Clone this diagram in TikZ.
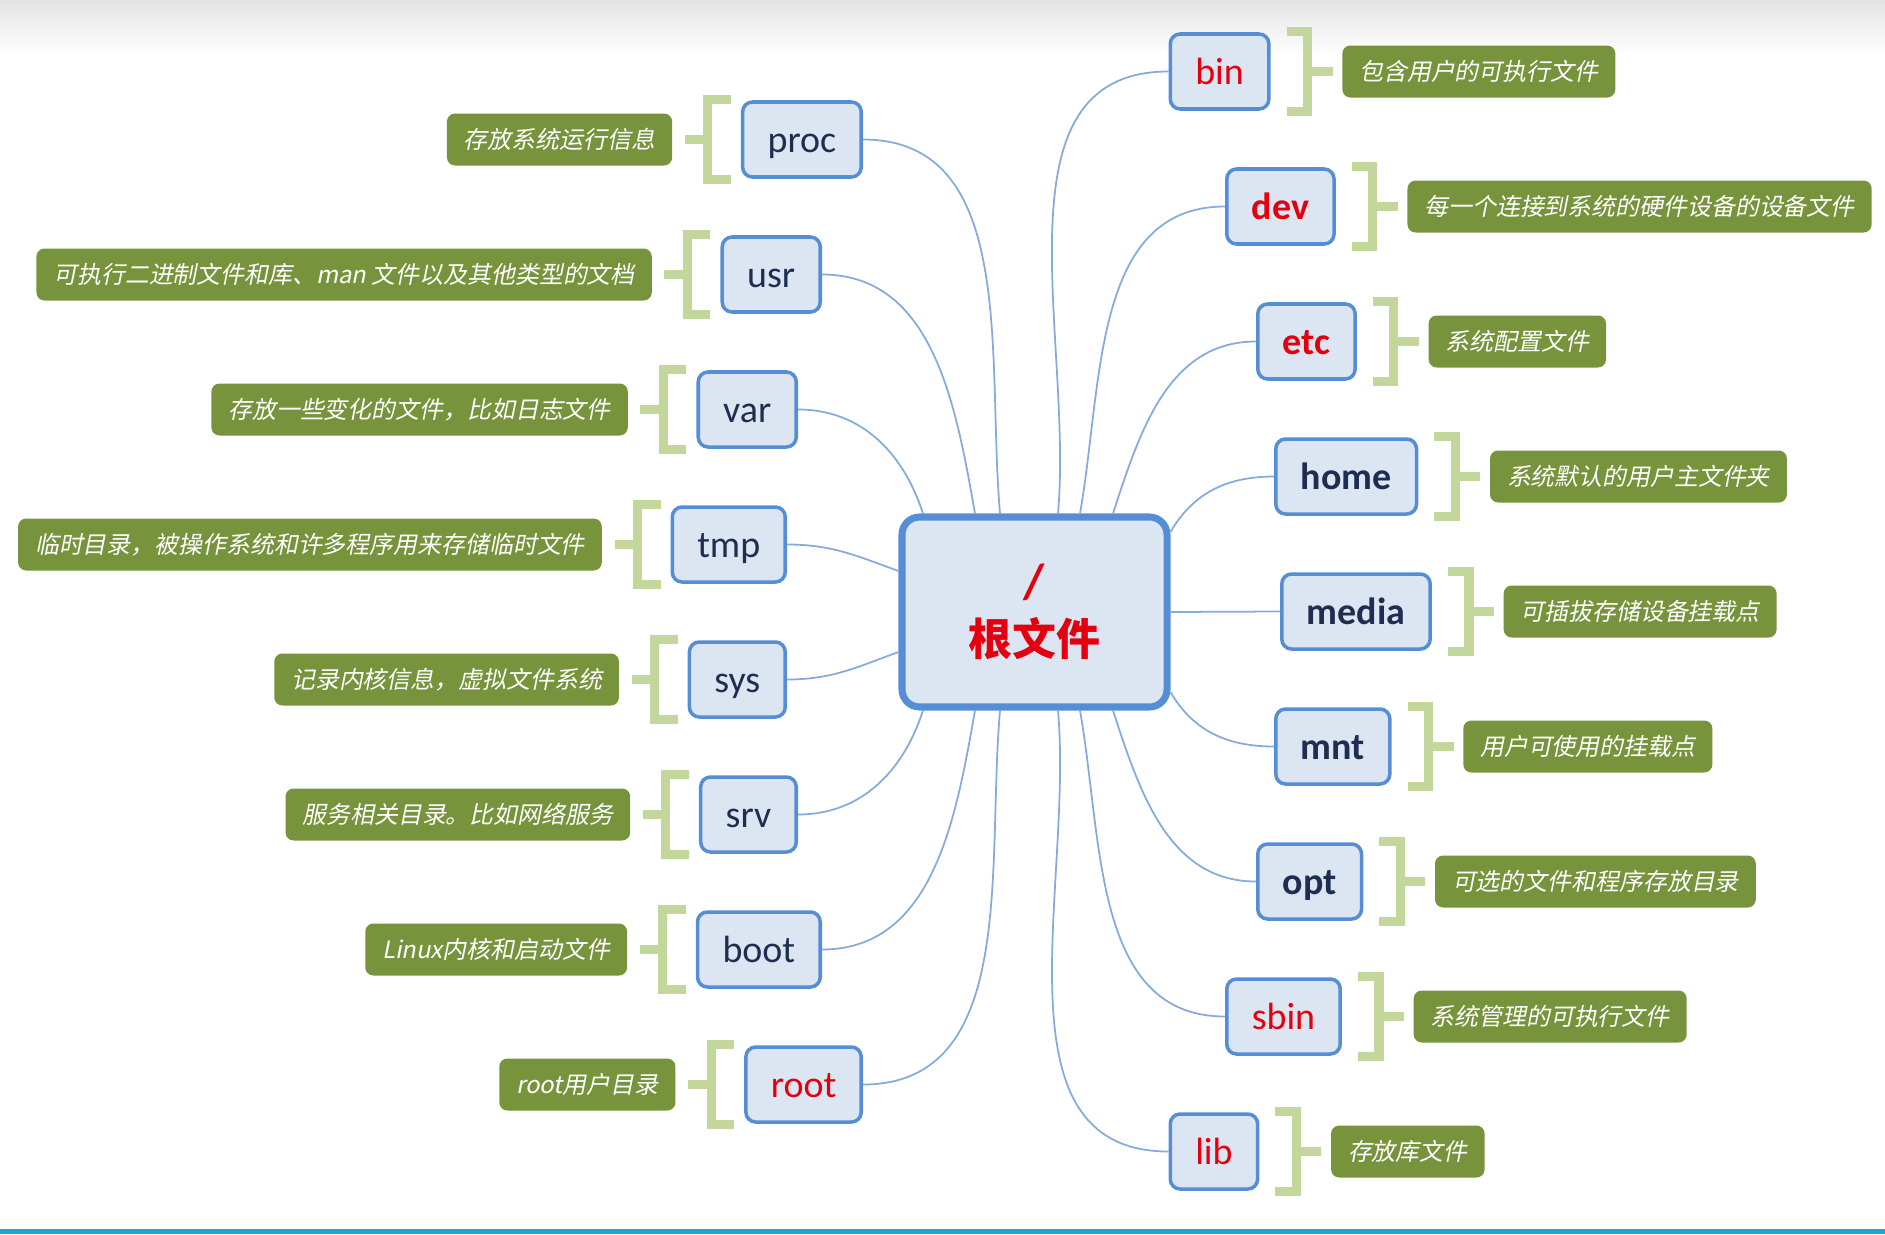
\documentclass[tikz,border=0pt]{standalone}
\usepackage{fontspec}
\setmainfont{Carlito}
\newfontfamily\cjk{Noto Sans CJK SC}
\newfontfamily\cjkit[FakeSlant=0.2]{Noto Sans CJK SC}
\usepackage{tikz}
\usetikzlibrary{calc,positioning}
\definecolor{ccFill}{HTML}{DCE6F2}
\definecolor{ccBlue}{HTML}{558ED5}
\definecolor{ccLink}{HTML}{85AADC}
\definecolor{ccNavy}{HTML}{1F2D50}
\definecolor{ccRed}{HTML}{E3000F}
\definecolor{ccNote}{HTML}{77933C}
\definecolor{ccBrk}{HTML}{C3D69B}
\definecolor{ccShade}{HTML}{E4E4E4}
\definecolor{ccBar}{HTML}{1FA3DA}

\begin{document}
\begin{tikzpicture}[
  dir/.style={draw=ccBlue, line width=1pt, fill=ccFill, rounded corners=2.8pt, minimum height=0.75cm, inner xsep=0.25cm, inner ysep=0pt, text height=0.50cm, text depth=0.25cm, text=ccNavy, font=\fontsize{10.8pt}{13pt}\selectfont},
  bdir/.style={dir, font=\fontsize{10.8pt}{13pt}\selectfont\bfseries},
  note/.style={fill=ccNote, text=white, rounded corners=2.3pt, minimum height=0.52cm, inner xsep=0.17cm, inner ysep=0pt, font=\cjkit\fontsize{6.8pt}{8pt}\selectfont},
  brk/.style={draw=ccBrk, line width=2.6pt},
  link/.style={draw=ccLink, line width=0.5pt},
]
\useasboundingbox (0,0) rectangle (18.85,12.34);
% screen edges
\shade[top color=ccShade, bottom color=white] (0,12.34) rectangle (18.85,11.78);
\fill[ccBar] (0,0) rectangle (18.85,0.05);
% root of the tree
\node[draw=ccBlue, line width=2pt, fill=ccFill, rounded corners=5pt, minimum width=2.65cm, minimum height=1.9cm, align=center, text=ccRed, font=\fontsize{12.5pt}{16pt}\selectfont\bfseries] (fsroot) at (10.345,6.22) {{\fontsize{14pt}{16pt}\selectfont /}\\{\cjk 根文件}};
% left branch
\node[dir, anchor=east] (proc) at (8.63,10.945) {proc};
\node[dir, anchor=east] (usr) at (8.22,9.595) {usr};
\node[dir, anchor=east] (var) at (7.98,8.245) {var};
\node[dir, anchor=east] (tmp) at (7.87,6.895) {tmp};
\node[dir, anchor=east] (sys) at (7.87,5.545) {sys};
\node[dir, anchor=east] (srv) at (7.98,4.195) {srv};
\node[dir, anchor=east] (boot) at (8.22,2.845) {boot};
\node[dir, anchor=east, text=ccRed] (root) at (8.63,1.495) {root};
\node[note, left=0.68cm of proc] (procN) {存放系统运行信息};
\node[note, left=0.68cm of usr] (usrN) {可执行二进制文件和库、man 文件以及其他类型的文档};
\node[note, left=0.68cm of var] (varN) {存放一些变化的文件，比如日志文件};
\node[note, left=0.68cm of tmp] (tmpN) {临时目录，被操作系统和许多程序用来存储临时文件};
\node[note, left=0.68cm of sys] (sysN) {记录内核信息，虚拟文件系统};
\node[note, left=0.68cm of srv] (srvN) {服务相关目录。比如网络服务};
\node[note, left=0.68cm of boot] (bootN) {Linux内核和启动文件};
\node[note, left=0.68cm of root] (rootN) {root用户目录};
% right branch
\node[dir, anchor=west, text=ccRed] (bin) at (11.685,11.625) {bin};
\node[bdir, anchor=west, text=ccRed] (dev) at (12.25,10.275) {dev};
\node[bdir, anchor=west, text=ccRed] (etc) at (12.56,8.925) {etc};
\node[bdir, anchor=west] (home) at (12.74,7.575) {home};
\node[bdir, anchor=west] (media) at (12.80,6.225) {media};
\node[bdir, anchor=west] (mnt) at (12.74,4.875) {mnt};
\node[bdir, anchor=west] (opt) at (12.56,3.525) {opt};
\node[dir, anchor=west, text=ccRed] (sbin) at (12.25,2.175) {sbin};
\node[dir, anchor=west, text=ccRed] (lib) at (11.685,0.825) {lib};
\node[note, right=0.71cm of bin] (binN) {包含用户的可执行文件};
\node[note, right=0.71cm of dev] (devN) {每一个连接到系统的硬件设备的设备文件};
\node[note, right=0.71cm of etc] (etcN) {系统配置文件};
\node[note, right=0.71cm of home] (homeN) {系统默认的用户主文件夹};
\node[note, right=0.71cm of media] (mediaN) {可插拔存储设备挂载点};
\node[note, right=0.71cm of mnt] (mntN) {用户可使用的挂载点};
\node[note, right=0.71cm of opt] (optN) {可选的文件和程序存放目录};
\node[note, right=0.71cm of sbin] (sbinN) {系统管理的可执行文件};
\node[note, right=0.71cm of lib] (libN) {存放库文件};
% brackets, left
\draw[brk] ($(proc.west)+(-0.10,0.40)$) -| ($(proc.west)+(-0.33,-0.40)$) -- ++(0.23,0) ($(proc.west)+(-0.33,0)$) -- ($(procN.east)+(0.12,0)$);
\draw[brk] ($(usr.west)+(-0.10,0.40)$) -| ($(usr.west)+(-0.33,-0.40)$) -- ++(0.23,0) ($(usr.west)+(-0.33,0)$) -- ($(usrN.east)+(0.12,0)$);
\draw[brk] ($(var.west)+(-0.10,0.40)$) -| ($(var.west)+(-0.33,-0.40)$) -- ++(0.23,0) ($(var.west)+(-0.33,0)$) -- ($(varN.east)+(0.12,0)$);
\draw[brk] ($(tmp.west)+(-0.10,0.40)$) -| ($(tmp.west)+(-0.33,-0.40)$) -- ++(0.23,0) ($(tmp.west)+(-0.33,0)$) -- ($(tmpN.east)+(0.12,0)$);
\draw[brk] ($(sys.west)+(-0.10,0.40)$) -| ($(sys.west)+(-0.33,-0.40)$) -- ++(0.23,0) ($(sys.west)+(-0.33,0)$) -- ($(sysN.east)+(0.12,0)$);
\draw[brk] ($(srv.west)+(-0.10,0.40)$) -| ($(srv.west)+(-0.33,-0.40)$) -- ++(0.23,0) ($(srv.west)+(-0.33,0)$) -- ($(srvN.east)+(0.12,0)$);
\draw[brk] ($(boot.west)+(-0.10,0.40)$) -| ($(boot.west)+(-0.33,-0.40)$) -- ++(0.23,0) ($(boot.west)+(-0.33,0)$) -- ($(bootN.east)+(0.12,0)$);
\draw[brk] ($(root.west)+(-0.10,0.40)$) -| ($(root.west)+(-0.33,-0.40)$) -- ++(0.23,0) ($(root.west)+(-0.33,0)$) -- ($(rootN.east)+(0.12,0)$);
% brackets, right
\draw[brk] ($(bin.east)+(0.16,0.40)$) -| ($(bin.east)+(0.37,-0.40)$) -- ++(-0.21,0) ($(bin.east)+(0.37,0)$) -- ($(binN.west)+(-0.09,0)$);
\draw[brk] ($(dev.east)+(0.16,0.40)$) -| ($(dev.east)+(0.37,-0.40)$) -- ++(-0.21,0) ($(dev.east)+(0.37,0)$) -- ($(devN.west)+(-0.09,0)$);
\draw[brk] ($(etc.east)+(0.16,0.40)$) -| ($(etc.east)+(0.37,-0.40)$) -- ++(-0.21,0) ($(etc.east)+(0.37,0)$) -- ($(etcN.west)+(-0.09,0)$);
\draw[brk] ($(home.east)+(0.16,0.40)$) -| ($(home.east)+(0.37,-0.40)$) -- ++(-0.21,0) ($(home.east)+(0.37,0)$) -- ($(homeN.west)+(-0.09,0)$);
\draw[brk] ($(media.east)+(0.16,0.40)$) -| ($(media.east)+(0.37,-0.40)$) -- ++(-0.21,0) ($(media.east)+(0.37,0)$) -- ($(mediaN.west)+(-0.09,0)$);
\draw[brk] ($(mnt.east)+(0.16,0.40)$) -| ($(mnt.east)+(0.37,-0.40)$) -- ++(-0.21,0) ($(mnt.east)+(0.37,0)$) -- ($(mntN.west)+(-0.09,0)$);
\draw[brk] ($(opt.east)+(0.16,0.40)$) -| ($(opt.east)+(0.37,-0.40)$) -- ++(-0.21,0) ($(opt.east)+(0.37,0)$) -- ($(optN.west)+(-0.09,0)$);
\draw[brk] ($(sbin.east)+(0.16,0.40)$) -| ($(sbin.east)+(0.37,-0.40)$) -- ++(-0.21,0) ($(sbin.east)+(0.37,0)$) -- ($(sbinN.west)+(-0.09,0)$);
\draw[brk] ($(lib.east)+(0.16,0.40)$) -| ($(lib.east)+(0.37,-0.40)$) -- ++(-0.21,0) ($(lib.east)+(0.37,0)$) -- ($(libN.west)+(-0.09,0)$);
% links from the root box
\draw[link] ($(fsroot.north)+(-0.345,0)$) to[out=95,in=0] (proc.east);
\draw[link] ($(fsroot.north)+(-0.595,0)$) to[out=100,in=0] (usr.east);
\draw[link] ($(fsroot.north)+(-1.115,0)$) to[out=108,in=0] (var.east);
\draw[link] ($(fsroot.west)+(0,0.41)$) to[out=160,in=0] (tmp.east);
\draw[link] ($(fsroot.west)+(0,-0.40)$) to[out=200,in=0] (sys.east);
\draw[link] ($(fsroot.south)+(-1.115,0)$) to[out=-108,in=0] (srv.east);
\draw[link] ($(fsroot.south)+(-0.595,0)$) to[out=-100,in=0] (boot.east);
\draw[link] ($(fsroot.south)+(-0.345,0)$) to[out=-95,in=0] (root.east);
\draw[link] ($(fsroot.north)+(0.235,0)$) to[out=85,in=180] (bin.west);
\draw[link] ($(fsroot.north)+(0.455,0)$) to[out=80,in=180] (dev.west);
\draw[link] ($(fsroot.north)+(0.785,0)$) to[out=72,in=180] (etc.west);
\draw[link] ($(fsroot.east)+(0,0.80)$) to[out=60,in=180] (home.west);
\draw[link] (fsroot.east) -- (media.west);
\draw[link] ($(fsroot.east)+(0,-0.80)$) to[out=-60,in=180] (mnt.west);
\draw[link] ($(fsroot.south)+(0.785,0)$) to[out=-72,in=180] (opt.west);
\draw[link] ($(fsroot.south)+(0.455,0)$) to[out=-80,in=180] (sbin.west);
\draw[link] ($(fsroot.south)+(0.235,0)$) to[out=-85,in=180] (lib.west);
\end{tikzpicture}
\end{document}
